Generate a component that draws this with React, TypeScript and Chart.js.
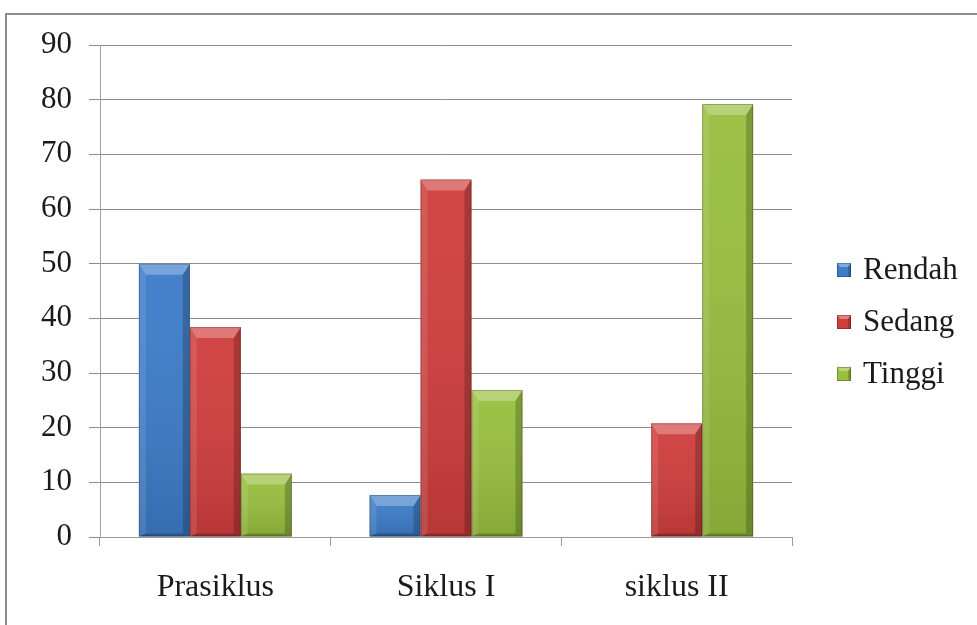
import React, { useEffect, useRef } from "react";
import { Chart, registerables } from "chart.js";

Chart.register(...registerables);

// ---- data ----
const categories = ["Prasiklus", "Siklus I", "siklus II"];
const seriesNames = ["Rendah", "Sedang", "Tinggi"];
const rendah = [50, 7.7, 0];
const sedang = [38.4, 65.4, 20.8];
const tinggi = [11.6, 26.9, 79.2];
const yMin = 0;
const yMax = 90;
const yStep = 10;

// ---- styles ----
const seriesColors = ["#3d7cc9", "#d03f3d", "#98bf3e"];
const FONT = '"Liberation Serif", "Times New Roman", serif';
const TEXT_COLOR = "#1a1a1a";

function poly(ctx: CanvasRenderingContext2D, pts: number[][], fill: string) {
  ctx.beginPath();
  ctx.moveTo(pts[0][0], pts[0][1]);
  for (let i = 1; i < pts.length; i++) ctx.lineTo(pts[i][0], pts[i][1]);
  ctx.closePath();
  ctx.fillStyle = fill;
  ctx.fill();
}

const bevelPlugin = {
  id: "bevel",
  afterDatasetsDraw(chart: any) {
    const ctx: CanvasRenderingContext2D = chart.ctx;
    chart.data.datasets.forEach((_ds: any, di: number) => {
      const meta = chart.getDatasetMeta(di);
      meta.data.forEach((bar: any) => {
        const { x, y, base, width } = bar.getProps(["x", "y", "base", "width"], true);
        const h = base - y;
        if (h < 1) return;
        const l = x - width / 2;
        const r = x + width / 2;
        const t = y;
        const b = base;
        const bx = Math.min(7, width / 4);
        const bt = Math.min(11, h / 3);
        const bb = Math.min(3, h / 4);
        ctx.save();
        const g = ctx.createLinearGradient(0, t, 0, b);
        g.addColorStop(0, "rgba(255,255,255,0.04)");
        g.addColorStop(1, "rgba(0,0,0,0.12)");
        ctx.fillStyle = g;
        ctx.fillRect(l, t, width, h);
        poly(ctx, [[l, t], [l + bx, t + bt], [l + bx, b - bb], [l, b]], "rgba(255,255,255,0.10)");
        poly(ctx, [[r, t], [r - bx, t + bt], [r - bx, b - bb], [r, b]], "rgba(0,0,0,0.20)");
        poly(ctx, [[l, t], [r, t], [r - bx, t + bt], [l + bx, t + bt]], "rgba(255,255,255,0.28)");
        poly(ctx, [[l, b], [r, b], [r - bx, b - bb], [l + bx, b - bb]], "rgba(0,0,0,0.22)");
        ctx.strokeStyle = "rgba(0,0,0,0.22)";
        ctx.lineWidth = 1;
        ctx.strokeRect(l + 0.5, t + 0.5, width - 1, h - 1);
        ctx.restore();
      });
    });
  },
};

const sideLegendPlugin = {
  id: "sideLegend",
  afterDraw(chart: any) {
    const ctx: CanvasRenderingContext2D = chart.ctx;
    const area = chart.chartArea;
    const boxX = area.right + 45;
    const firstY = area.top + 225;
    const rowH = 52;
    const box = 14;
    ctx.save();
    chart.data.datasets.forEach((ds: any, i: number) => {
      const cy = firstY + i * rowH;
      const bxl = boxX;
      const byt = cy - box / 2;
      ctx.fillStyle = ds.backgroundColor;
      ctx.fillRect(bxl, byt, box, box);
      poly(ctx, [[bxl, byt], [bxl + box, byt], [bxl + box - 3, byt + 4], [bxl + 3, byt + 4]], "rgba(255,255,255,0.35)");
      poly(ctx, [[bxl + box, byt], [bxl + box, byt + box], [bxl + box - 3, byt + box - 2], [bxl + box - 3, byt + 4]], "rgba(0,0,0,0.2)");
      ctx.strokeStyle = "rgba(0,0,0,0.25)";
      ctx.lineWidth = 1;
      ctx.strokeRect(bxl + 0.5, byt + 0.5, box - 1, box - 1);
      ctx.fillStyle = TEXT_COLOR;
      ctx.font = `31px ${FONT}`;
      ctx.textAlign = "left";
      ctx.textBaseline = "middle";
      ctx.fillText(ds.label, boxX + 26, cy + 1);
    });
    ctx.restore();
  },
};

export default function App() {
  const canvasRef = useRef<HTMLCanvasElement | null>(null);

  useEffect(() => {
    if (!canvasRef.current) return;
    const values = [rendah, sedang, tinggi];
    const chart = new Chart(canvasRef.current, {
      type: "bar",
      data: {
        labels: categories,
        datasets: seriesNames.map((name, i) => ({
          label: name,
          data: values[i],
          backgroundColor: seriesColors[i],
          borderWidth: 0,
          barPercentage: 1,
          categoryPercentage: 0.663,
        })),
      },
      options: {
        animation: false,
        responsive: false,
        devicePixelRatio: 1,
        layout: { padding: { left: 0, top: 45, right: 185, bottom: 0 } },
        plugins: {
          legend: { display: false },
          tooltip: { enabled: false },
        },
        scales: {
          x: {
            offset: true,
            grid: {
              display: true,
              offset: true,
              drawOnChartArea: false,
              drawTicks: true,
              tickLength: 9,
              color: "#9a9a9a",
            },
            border: { display: true, color: "#9a9a9a" },
            ticks: {
              color: TEXT_COLOR,
              font: { family: FONT, size: 32 },
              padding: 22,
              maxRotation: 0,
            },
            afterFit: (scale: any) => {
              scale.height = 88;
            },
          },
          y: {
            min: yMin,
            max: yMax,
            grid: {
              color: "#8c8c8c",
              drawTicks: true,
              tickLength: 11,
              tickColor: "#8c8c8c",
            },
            border: { display: true, color: "#a0a0a0" },
            ticks: {
              stepSize: yStep,
              color: TEXT_COLOR,
              font: { family: FONT, size: 31 },
              padding: 17,
            },
            afterFit: (scale: any) => {
              scale.width = 100;
            },
          },
        },
      },
      plugins: [bevelPlugin, sideLegendPlugin],
    });
    return () => chart.destroy();
  }, []);

  return (
    <div
      style={{
        position: "absolute",
        left: 0,
        top: 0,
        width: 977,
        height: 625,
        overflow: "hidden",
        background: "#ffffff",
      }}
    >
      <div
        style={{
          position: "absolute",
          left: 5,
          top: 13,
          width: 1100,
          height: 800,
          borderTop: "2px solid #8e8e8e",
          borderLeft: "2px solid #8e8e8e",
          boxSizing: "border-box",
        }}
      />
      <canvas
        ref={canvasRef}
        width={977}
        height={625}
        style={{ position: "absolute", left: 0, top: 0, display: "block" }}
      />
    </div>
  );
}
